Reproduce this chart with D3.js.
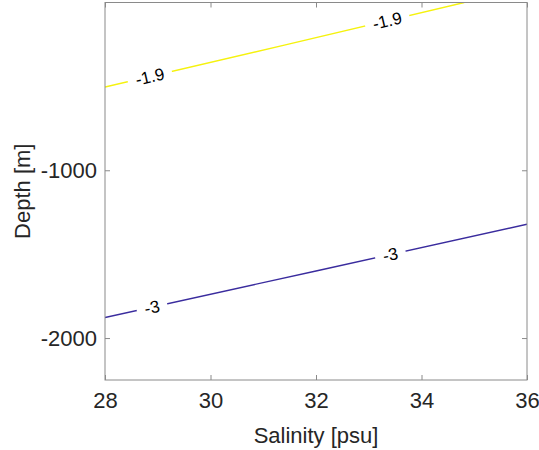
<!DOCTYPE html>
<html>
<head>
<meta charset="utf-8">
<script src="https://cdn.jsdelivr.net/npm/d3@7"></script>
<style>
  html, body { margin: 0; padding: 0; background: #fff; }
  svg { display: block; font-family: Arial, "Liberation Sans", Helvetica, sans-serif; }
</style>
</head>
<body>
<svg id="chart" width="539" height="450"></svg>
<script>
// Freezing-point isotherms (°C) over salinity (psu) and depth (m)
const levels = [-1.9, -3];
const levelColors = ["#f5f20e", "#3a2c9e"];
// Contour vertices: salinity and depth pairs for each level
const salinityLevel19 = [28, 31.4, 34.81];
const depthLevel19 = [-504, -254, 0];
const salinityLevel3 = [28, 32, 36];
const depthLevel3 = [-1878, -1600, -1322];
// Salinity positions of the inline contour labels
const labelSalinity19 = [28.85, 33.35];
const labelSalinity3 = [28.89, 33.41];

const xTicks = [28, 30, 32, 34, 36];
const yTicks = [-2000, -1000];
const xDomain = [28, 36];
const yDomain = [-2250, 0];

// Plain hyphen-minus for negative numbers
const fmt = v => String(v);

const svg = d3.select("#chart");
const m = { left: 105, right: 527, top: 2.5, bottom: 380 };

const x = d3.scaleLinear().domain(xDomain).range([m.left, m.right]);
const y = d3.scaleLinear().domain(yDomain).range([m.bottom, m.top]);

const contours = [
  { level: levels[0], color: levelColors[0], s: salinityLevel19, d: depthLevel19, labels: labelSalinity19 },
  { level: levels[1], color: levelColors[1], s: salinityLevel3, d: depthLevel3, labels: labelSalinity3 }
];

const line = d3.line().x(p => x(p[0])).y(p => y(p[1]));

// Clip contour lines to the axes box
svg.append("clipPath").attr("id", "plotClip")
  .append("rect")
  .attr("x", m.left).attr("y", m.top)
  .attr("width", m.right - m.left).attr("height", m.bottom - m.top);

const plot = svg.append("g").attr("clip-path", "url(#plotClip)");

contours.forEach(c => {
  const pts = c.s.map((s, i) => [s, c.d[i]]);
  plot.append("path")
    .datum(pts)
    .attr("d", line)
    .attr("fill", "none")
    .attr("stroke", c.color)
    .attr("stroke-width", 1.4);

  const depthAt = d3.scaleLinear().domain(c.s).range(c.d);
  const txt = fmt(c.level);
  c.labels.forEach(s => {
    const d = depthAt(s);
    const px = x(s), py = y(d);
    const eps = 0.05;
    const ang = Math.atan2(y(depthAt(s + eps)) - y(depthAt(s - eps)), x(s + eps) - x(s - eps)) * 180 / Math.PI;
    const g = plot.append("g").attr("transform", `translate(${px},${py}) rotate(${ang})`);
    const t = g.append("text")
      .attr("text-anchor", "middle")
      .attr("dy", "0.35em")
      .attr("font-size", 17)
      .attr("fill", "#000")
      .text(txt);
    const w = t.node().getComputedTextLength();
    g.insert("rect", "text")
      .attr("x", -w / 2 - 8).attr("y", -10)
      .attr("width", w + 16).attr("height", 20)
      .attr("fill", "#fff");
  });
});

// Axes box with inward ticks on all sides
const axisColor = "#8a8a8a";
const tickLen = 5;
const gx = svg.append("g").attr("transform", `translate(0,${m.bottom})`)
  .call(d3.axisBottom(x).tickValues(xTicks).tickSize(-tickLen).tickPadding(12).tickFormat(fmt));
const gxTop = svg.append("g").attr("transform", `translate(0,${m.top})`)
  .call(d3.axisTop(x).tickValues(xTicks).tickSize(-tickLen).tickFormat(""));
const gy = svg.append("g").attr("transform", `translate(${m.left},0)`)
  .call(d3.axisLeft(y).tickValues(yTicks).tickSize(-tickLen).tickPadding(8).tickFormat(fmt));
const gyRight = svg.append("g").attr("transform", `translate(${m.right},0)`)
  .call(d3.axisRight(y).tickValues(yTicks).tickSize(-tickLen).tickFormat(""));

[gx, gxTop, gy, gyRight].forEach(g => {
  g.select(".domain").remove();
  g.selectAll(".tick line").attr("stroke", axisColor);
  g.selectAll(".tick text").attr("fill", "#262626").attr("font-size", 22)
    .attr("font-family", "Arial, 'Liberation Sans', sans-serif");
});

svg.append("rect")
  .attr("x", m.left).attr("y", m.top)
  .attr("width", m.right - m.left).attr("height", m.bottom - m.top)
  .attr("fill", "none").attr("stroke", axisColor).attr("stroke-width", 1);

// Axis titles
svg.append("text")
  .attr("x", (m.left + m.right) / 2).attr("y", 443)
  .attr("text-anchor", "middle")
  .attr("font-size", 22).attr("fill", "#262626")
  .text("Salinity [psu]");

svg.append("text")
  .attr("transform", `translate(30,${(m.top + m.bottom) / 2}) rotate(-90)`)
  .attr("text-anchor", "middle")
  .attr("font-size", 22).attr("fill", "#262626")
  .text("Depth [m]");
</script>
</body>
</html>
